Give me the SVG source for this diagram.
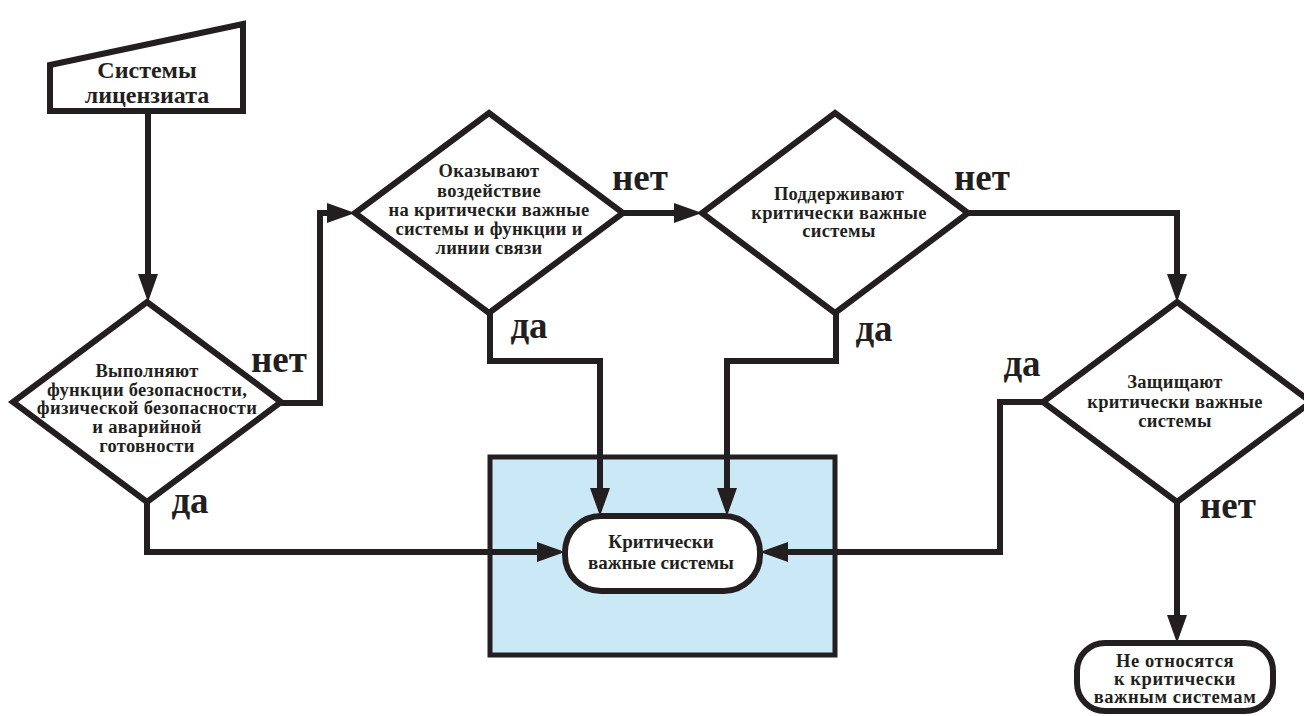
<svg xmlns="http://www.w3.org/2000/svg" width="1304" height="716" viewBox="0 0 1304 716" font-family="Liberation Serif, DejaVu Serif, serif">
<defs>
<style>
.shape{fill:#fff;stroke:#231f20;stroke-width:6;stroke-linejoin:miter}
.conn{fill:none;stroke:#231f20;stroke-width:6;stroke-linejoin:miter}
.t{font-weight:bold;fill:#231f20;text-anchor:middle}
.d{font-size:18.5px;letter-spacing:0.3px}
.lbl{font-size:37px}
</style>
<marker id="ah" markerUnits="userSpaceOnUse" markerWidth="28" markerHeight="20" refX="8" refY="10" orient="auto" viewBox="0 0 28 20">
<path d="M0,0 L28,10 L0,20 z" fill="#231f20"/>
</marker>
</defs>
<rect width="1304" height="716" fill="#fff"/>

<g id="critical-area">
<rect x="490" y="457" width="345" height="198" fill="#cbe8f7" stroke="#231f20" stroke-width="5"/>
</g>

<g id="connectors">
<path class="conn" d="M148,111 V282" marker-end="url(#ah)"/>
<path class="conn" d="M280,403 H320 V213 H335" marker-end="url(#ah)"/>
<path class="conn" d="M147,502 V552 H545" marker-end="url(#ah)"/>
<path class="conn" d="M622,213 H682" marker-end="url(#ah)"/>
<path class="conn" d="M490,312 V361 H600 V496" marker-end="url(#ah)"/>
<path class="conn" d="M836,313 V361 H727 V496" marker-end="url(#ah)"/>
<path class="conn" d="M968,213 H1177 V282" marker-end="url(#ah)"/>
<path class="conn" d="M1043,402 H1000 V552 H780" marker-end="url(#ah)"/>
<path class="conn" d="M1177,502 V623" marker-end="url(#ah)"/>
<text class="t lbl" x="279" y="372">нет</text>
<text class="t lbl" x="190" y="513">да</text>
<text class="t lbl" x="640" y="190">нет</text>
<text class="t lbl" x="529" y="338">да</text>
<text class="t lbl" x="982" y="190">нет</text>
<text class="t lbl" x="874" y="341">да</text>
<text class="t lbl" x="1022" y="376">да</text>
<text class="t lbl" x="1228" y="518">нет</text>
</g>

<g id="licensee-systems">
<path class="shape" d="M50,65 L243,24 L243,111 L50,111 Z"/>
<text class="t" font-size="24" x="147" y="78">Системы</text>
<text class="t" font-size="24" x="147" y="103">лицензиата</text>
</g>

<g id="decision-safety">
<path class="shape" d="M147,302 L281,402 L147,502 L13,402 Z"/>
<text class="t d" x="147" y="377">Выполняют</text>
<text class="t d" x="147" y="396">функции безопасности,</text>
<text class="t d" x="147" y="414">физической безопасности</text>
<text class="t d" x="147" y="433">и аварийной</text>
<text class="t d" x="147" y="452">готовности</text>
</g>

<g id="decision-impact">
<path class="shape" d="M489,113 L623,213 L489,313 L355,213 Z"/>
<text class="t d" x="489" y="177">Оказывают</text>
<text class="t d" x="489" y="197">воздействие</text>
<text class="t d" x="489" y="216">на критически важные</text>
<text class="t d" x="489" y="235">системы и функции и</text>
<text class="t d" x="489" y="254">линии связи</text>
</g>

<g id="decision-support">
<path class="shape" d="M835,113 L968,213 L835,313 L702,213 Z"/>
<text class="t d" x="839" y="200">Поддерживают</text>
<text class="t d" x="839" y="219">критически важные</text>
<text class="t d" x="839" y="237">системы</text>
</g>

<g id="decision-protect">
<path class="shape" d="M1177,302 L1311,402 L1177,502 L1043,402 Z"/>
<text class="t d" x="1175" y="388">Защищают</text>
<text class="t d" x="1175" y="408">критически важные</text>
<text class="t d" x="1175" y="427">системы</text>
</g>

<g id="critical-systems">
<rect class="shape" x="565" y="516" width="195" height="75" rx="36" ry="36"/>
<text class="t" font-size="19" x="661" y="548">Критически</text>
<text class="t" font-size="19" x="661" y="569">важные системы</text>
</g>

<g id="not-critical">
<rect class="shape" x="1077" y="643" width="196" height="68" rx="28" ry="28"/>
<text class="t" font-size="18.5" letter-spacing="0.6" x="1175" y="667">Не относятся</text>
<text class="t" font-size="18.5" letter-spacing="0.6" x="1175" y="685">к критически</text>
<text class="t" font-size="18.5" letter-spacing="0.6" x="1175" y="703">важным системам</text>
</g>
</svg>
